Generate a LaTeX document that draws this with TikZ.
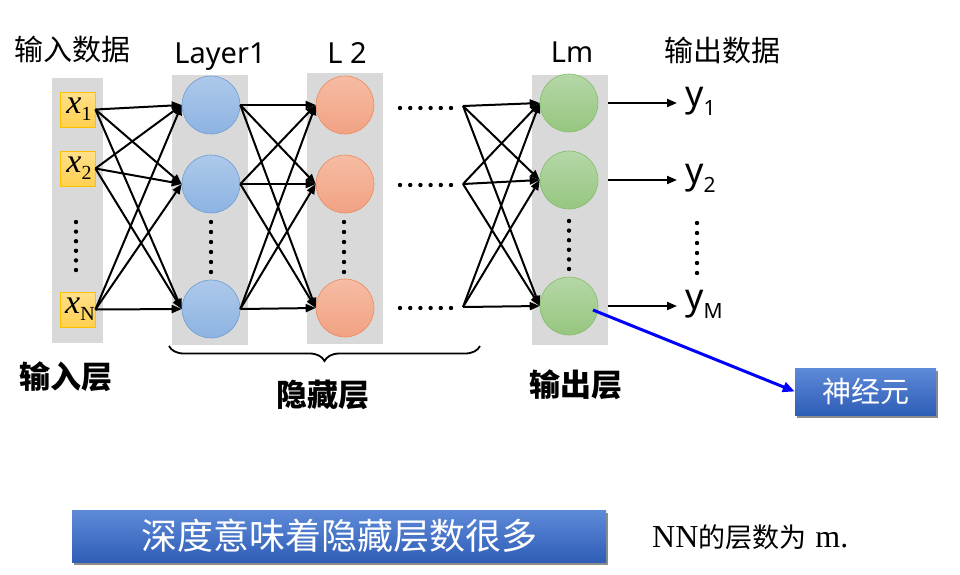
\documentclass[tikz,border=0pt]{standalone}
\usepackage{fontspec}
\setmainfont{Liberation Serif}
\newfontfamily\cjk{Noto Sans CJK SC}
\newfontfamily\lat{Noto Sans}
\usetikzlibrary{arrows.meta,decorations.pathreplacing,shadows,calc}
\definecolor{barg}{HTML}{D9D9D9}
\definecolor{ylt}{HTML}{FFE08A}
\definecolor{ydk}{HTML}{FFD050}
\definecolor{ybd}{HTML}{FFC000}
\definecolor{blt}{HTML}{ADC9EA}
\definecolor{bdk}{HTML}{8DB3E2}
\definecolor{bbd}{HTML}{6F9BD3}
\definecolor{olt}{HTML}{F6BCA4}
\definecolor{odk}{HTML}{F1A283}
\definecolor{obd}{HTML}{ED8A5C}
\definecolor{glt}{HTML}{B5D7A8}
\definecolor{gdk}{HTML}{96C67F}
\definecolor{gbd}{HTML}{84BC6A}
\definecolor{boxlt}{HTML}{5E8AD8}
\definecolor{boxdk}{HTML}{2F5EB7}
\begin{document}
\begin{tikzpicture}[x=1pt,y=-1pt,
  bar/.style={fill=barg,draw=none},
  inbox/.style={draw=ybd,line width=0.8pt,top color=ylt,bottom color=ydk,minimum width=35pt,minimum height=35pt,inner sep=0pt},
  neu/.style={circle,minimum size=58pt,inner sep=0pt,line width=0.6pt},
  bneu/.style={neu,draw=bbd,top color=blt,bottom color=bdk},
  oneu/.style={neu,draw=obd,top color=olt,bottom color=odk},
  gneu/.style={neu,draw=gbd,top color=glt,bottom color=gdk},
  arr/.style={line width=2pt,-{Triangle[length=10pt,width=8pt]}},
  dotc/.style={fill=black,draw=none},
  head/.style={font=\cjk\fontsize{29}{29}\selectfont},
  lathead/.style={font=\lat\fontsize{29}{29}\selectfont,anchor=base},
  blab/.style={font=\cjk\bfseries\fontsize{31}{31}\selectfont},
  bluebox/.style={top color=boxlt,bottom color=boxdk,draw=none,text=white,
    drop shadow={shadow xshift=2pt,shadow yshift=-3pt,opacity=0.45,fill=black}},
  ylab/.style={font=\lat\fontsize{36}{36}\selectfont,anchor=base west,inner sep=0pt},
  xlab/.style={font=\itshape\fontsize{34}{34}\selectfont,inner sep=0pt}
]
\useasboundingbox (0,0) rectangle (960,574);

% gray bars
\fill[bar] (52,78) rectangle (103,343);
\fill[bar] (172,75) rectangle (248,345);
\fill[bar] (307,73) rectangle (383,344);
\fill[bar] (532,75) rectangle (608,345);

% input boxes
\node[inbox] (in1) at (77.5,109.5) {};
\node[inbox] (in2) at (77.5,168.5) {};
\node[inbox] (inN) at (77.5,309.5) {};
\node[xlab] at (79,109) {x\raisebox{-0.45ex}{\fontsize{20}{20}\selectfont\upshape 1}};
\node[xlab] at (79,168) {x\raisebox{-0.45ex}{\fontsize{20}{20}\selectfont\upshape 2}};
\node[xlab] at (80,309) {x\raisebox{-0.45ex}{\fontsize{20}{20}\selectfont\upshape N}};

% layer 1
\node[bneu] (a1) at (211,105) {};
\node[bneu] (a2) at (211,184) {};
\node[bneu] (a3) at (211,309) {};
% layer 2
\node[oneu] (b1) at (345,105) {};
\node[oneu] (b2) at (345,184) {};
\node[oneu] (b3) at (345,308) {};
% layer m
\node[gneu] (c1) at (569,103) {};
\node[gneu] (c2) at (569,180) {};
\node[gneu] (c3) at (569,306) {};

% vertical dots
\foreach \x/\ya/\yb in {76/222/270, 211/222/272, 344/222/272, 569/221/269, 697/223/273}{
  \foreach \i in {0,...,5}{
    \fill[dotc] (\x,{\ya+\i*(\yb-\ya)/5}) circle (2.2pt);
  }
}
% horizontal dot rows
\foreach \y in {108,185,308}{
  \foreach \i in {0,...,5}{
    \fill[dotc] ({400+\i*10.2},\y) circle (2.2pt);
  }
}
\coordinate (d1) at (463,106);
\coordinate (d2) at (463,184);
\coordinate (d3) at (463,307);

% connections
\foreach \s in {in1,in2,inN}{\foreach \t in {a1,a2,a3}{\draw[arr] (\s.east) -- (\t.west);}}
\foreach \s in {a1,a2,a3}{\foreach \t in {b1,b2,b3}{\draw[arr] (\s.east) -- (\t.west);}}
\foreach \s in {d1,d2,d3}{\foreach \t in {c1,c2,c3}{\draw[arr] (\s) -- (\t.west);}}

% outputs
\node[ylab] (y1) at (685,106) {y\raisebox{-9pt}{\fontsize{21}{21}\selectfont 1}};
\node[ylab] (y2) at (685,183) {y\raisebox{-9pt}{\fontsize{21}{21}\selectfont 2}};
\node[ylab] (yM) at (685,309) {y\raisebox{-9pt}{\fontsize{21}{21}\selectfont M}};
\coordinate (o1) at (608,103);
\coordinate (o2) at (608,180);
\coordinate (o3) at (608,306);
\coordinate (e1) at (677,103);
\coordinate (e2) at (677,180);
\coordinate (e3) at (677,306);
\draw[arr] (o1) -- (e1);
\draw[arr] (o2) -- (e2);
\draw[arr] (o3) -- (e3);

% headers
\node[head,anchor=west] (hin) at (11,49) {输入数据};
\node[lathead] (hl1) at (220,63) {Layer1};
\node[lathead] (hl2) at (347,63) {L 2};
\node[lathead] (hlm) at (572,62) {Lm};
\node[head,anchor=west] (hout) at (661,50) {输出数据};

% brace
\draw[line width=1.8pt,decorate,decoration={brace,mirror,amplitude=15pt}] (169,346) -- (480,346);

% bold labels
\node[blab] (lin) at (66,377) {输入层};
\node[blab] (lhid) at (323,395) {隐藏层};
\node[blab] (lout) at (576,385) {输出层};

% neuron box
\node[bluebox,minimum width=141pt,minimum height=47pt,inner sep=0pt,font=\cjk\fontsize{29}{29}\selectfont] (nb) at (865.5,391.5) {神经元};
\coordinate (bs) at (593,310);
\draw[line width=3pt,blue,-{Triangle[length=12pt,width=10pt]}] (bs) -- (nb.west);

% bottom box
\node[bluebox,minimum width=534pt,minimum height=52pt,inner sep=0pt,font=\cjk\fontsize{36}{36}\selectfont] (deep) at (339,536) {深度意味着隐藏层数很多};

\node[anchor=west,inner sep=0pt] (nn) at (652,537) {{\fontsize{32}{32}\selectfont NN}{\cjk\fontsize{27}{27}\selectfont 的层数为}\hspace{9pt}{\fontsize{32}{32}\selectfont m.}};
\end{tikzpicture}
\end{document}
